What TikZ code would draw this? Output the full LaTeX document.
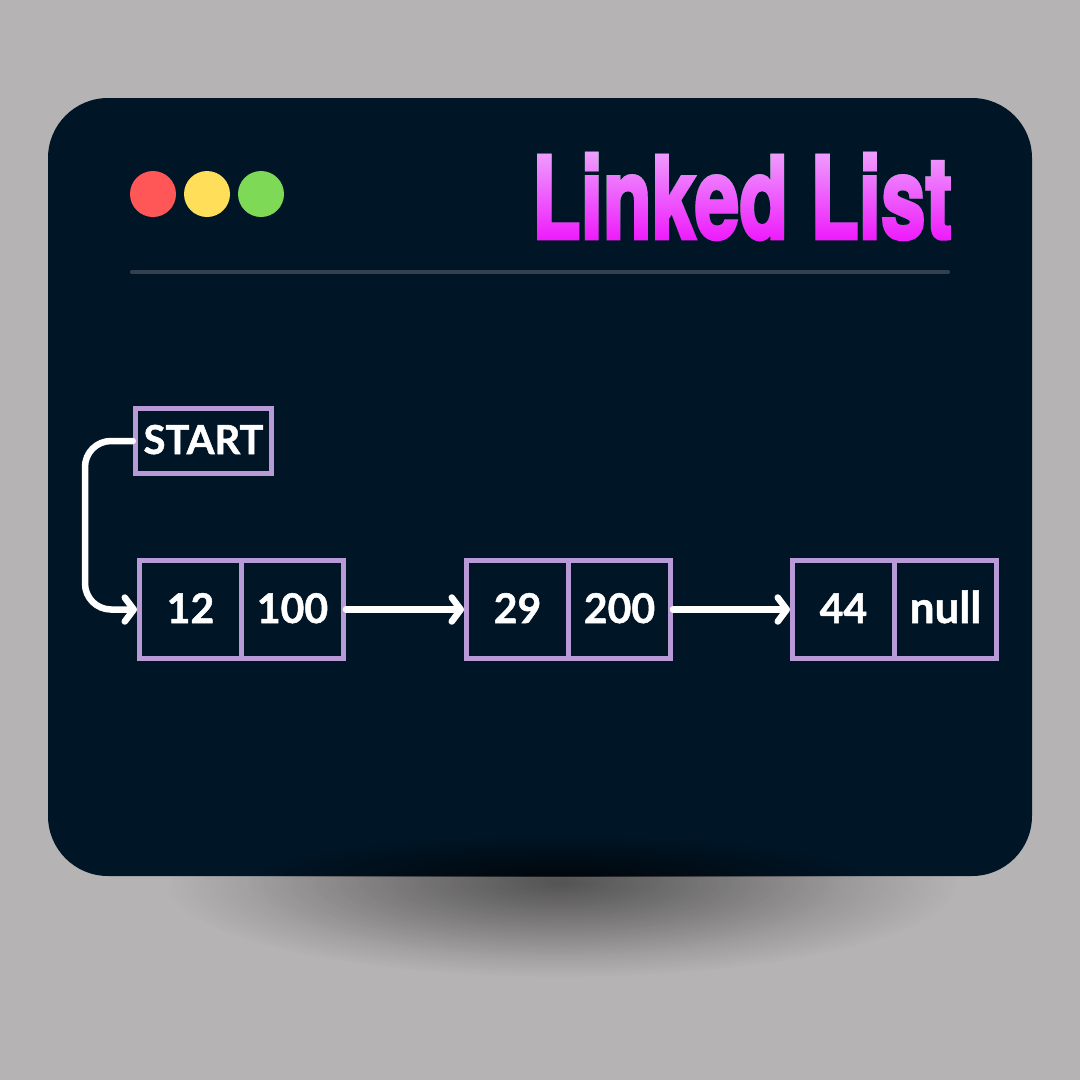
\documentclass[tikz,border=0pt]{standalone}
\usepackage{fontspec}
\usetikzlibrary{arrows.meta,fadings,shadings}
\setmainfont{Lato}[BoldFeatures={FakeBold=1.2}]
\newfontfamily\titlefont[FakeBold=3.2]{TeX Gyre Heros Bold}
\definecolor{bgcol}{HTML}{B5B3B3}
\definecolor{cardcol}{HTML}{001525}
\definecolor{boxcol}{HTML}{B89BD6}
\definecolor{rulecol}{HTML}{33414F}
\definecolor{titlebase}{HTML}{EEFFFD}
\definecolor{titlegradtop}{HTML}{FFA4FF}
\definecolor{titlegradbot}{HTML}{FF15FF}
\newcommand{\titletext}{\titlefont\fontsize{114}{114}\selectfont Linked List}
\tikzfading[name=shadowwide, inner color=transparent!52, outer color=transparent!100]
\tikzfading[name=shadowcore, inner color=transparent!90, outer color=transparent!100]
\tikzfading[name=cardshadefade, inner color=transparent!32, outer color=transparent!100]
\tikzset{
  cell/.style={draw=boxcol, line width=5pt, inner sep=0pt, text=white, minimum width=102pt, minimum height=98.5pt, text height=27pt, text depth=0pt, font=\bfseries\fontsize{41}{41}\selectfont},
  startbox/.style={cell, minimum width=136.5pt, minimum height=65pt, text height=26pt, font=\bfseries\fontsize{40}{40}\selectfont},
  link/.style={draw=white, line width=6.5pt, line cap=round, rounded corners=26pt, -{Straight Barb[length=9pt, width=24pt, line width=6.5pt, round]}},
  dot/.style={circle, inner sep=0pt, minimum size=46pt}
}
\begin{document}
\begin{tikzpicture}[x=1pt, y=-1pt]
\useasboundingbox (0,0) rectangle (1080,1080);
\fill[bgcol] (0,0) rectangle (1080,1080);
\fill[cardcol, rounded corners=60pt] (48,98) rectangle (1032,876);
\begin{scope}
\clip (0,876) rectangle (1080,1080);
\fill[black, path fading=shadowwide] (562,883) ellipse [x radius=396, y radius=94];
\fill[black, path fading=shadowcore] (545,876) ellipse [x radius=300, y radius=80];
\end{scope}
\begin{scope}
\clip (0,700) rectangle (1080,876);
\fill[black, path fading=cardshadefade] (560,878) ellipse [x radius=300, y radius=42];
\end{scope}
\node[dot, fill={rgb,255:red,255;green,87;blue,87}] (red) at (153,194) {};
\node[dot, fill={rgb,255:red,255;green,222;blue,89}] (yellow) at (207,194) {};
\node[dot, fill={rgb,255:red,126;green,217;blue,87}] (green) at (261,194) {};
\draw[rulecol, line width=4pt, line cap=round] (132,272) -- (948,272);
\node[inner sep=0, text=titlebase, xscale=.70] (title) at (742,196.5) {\titletext};
\begin{scope}[blend mode=darken]
\shade[top color=titlegradtop, bottom color=titlegradbot] (525,148) rectangle (960,244);
\end{scope}
\node[startbox] (start) at (203.5,441) {START};
\node[cell] (a1) at (190.5,609.5) {12};
\node[cell] (a2) at (292.5,609.5) {100};
\node[cell] (b1) at (517.5,609.5) {29};
\node[cell] (b2) at (619.5,609.5) {200};
\node[cell] (c1) at (843.5,609.5) {44};
\node[cell, font=\bfseries\fontsize{44}{44}\selectfont] (c2) at (945.5,609.5) {null};
\coordinate (bendA) at (85,441);
\coordinate (bendB) at (85,609.5);
\draw[link] (start.west) -- (bendA) -- (bendB) -- (a1.west);
\draw[link] (a2.east) -- (b1.west);
\draw[link] (b2.east) -- (c1.west);
\end{tikzpicture}
\end{document}
